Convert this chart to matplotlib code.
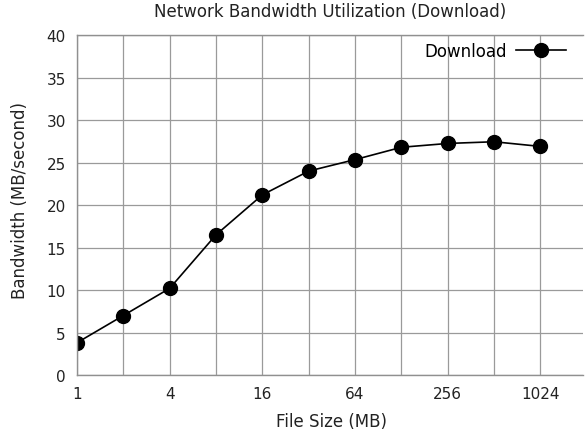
import matplotlib
matplotlib.use("Agg")
import matplotlib.pyplot as plt
from matplotlib.ticker import FixedLocator, NullFormatter

file_sizes = [1, 2, 4, 8, 16, 32, 64, 128, 256, 512, 1024]
bandwidth = [3.8, 7.0, 10.2, 16.5, 21.2, 24.0, 25.35, 26.8, 27.25, 27.45, 26.9]
x_tick_labels = ["1", "4", "16", "64", "256", "1024"]
x_tick_values = [1, 4, 16, 64, 256, 1024]
y_ticks = [0, 5, 10, 15, 20, 25, 30, 35, 40]

plt.rcParams['font.family'] = ['DejaVu Sans']
fig = plt.figure(figsize=(5.86, 4.35), dpi=100)
ax = fig.add_axes([0.1314, 0.1356, 0.8636, 0.7814])

ax.plot(file_sizes, bandwidth, color='black', linewidth=1.2, marker='o',
        markersize=10, label='Download')
ax.set_xscale('log', base=2)
ax.set_xlim(1, 2 ** 10.92)
ax.set_ylim(0, 40)

ax.xaxis.set_major_locator(FixedLocator(x_tick_values))
ax.set_xticklabels(x_tick_labels)
ax.xaxis.set_minor_locator(FixedLocator(file_sizes))
ax.xaxis.set_minor_formatter(NullFormatter())
ax.set_yticks(y_ticks)

ax.grid(True, which='both', axis='x', color='#9a9a9a', linewidth=0.9)
ax.grid(True, which='major', axis='y', color='#9a9a9a', linewidth=0.9)
ax.set_axisbelow(True)
ax.tick_params(which='both', length=0, labelsize=11, colors='#222222', pad=8)

for s in ['left', 'bottom', 'top']:
    ax.spines[s].set_color('#909090')
    ax.spines[s].set_linewidth(1)
ax.spines['right'].set_visible(False)

fig.text(0.5635, 0.972, 'Network Bandwidth Utilization (Download)', fontsize=12,
         color='#222222', ha='center', va='center')
ax.set_xlabel('File Size (MB)', fontsize=12, color='#222222', va='center')
ax.xaxis.set_label_coords(0.503, -0.1353)
ax.set_ylabel('Bandwidth (MB/second)', fontsize=12, color='#222222', va='center')
ax.yaxis.set_label_coords(-0.1126, 0.5176)

leg = ax.legend(loc='upper right', frameon=False, markerfirst=False,
                fontsize=12, handlelength=3, handletextpad=0.55,
                bbox_to_anchor=(0.989, 1.015), borderaxespad=0.3)

fig.savefig('out.png', dpi=100)
